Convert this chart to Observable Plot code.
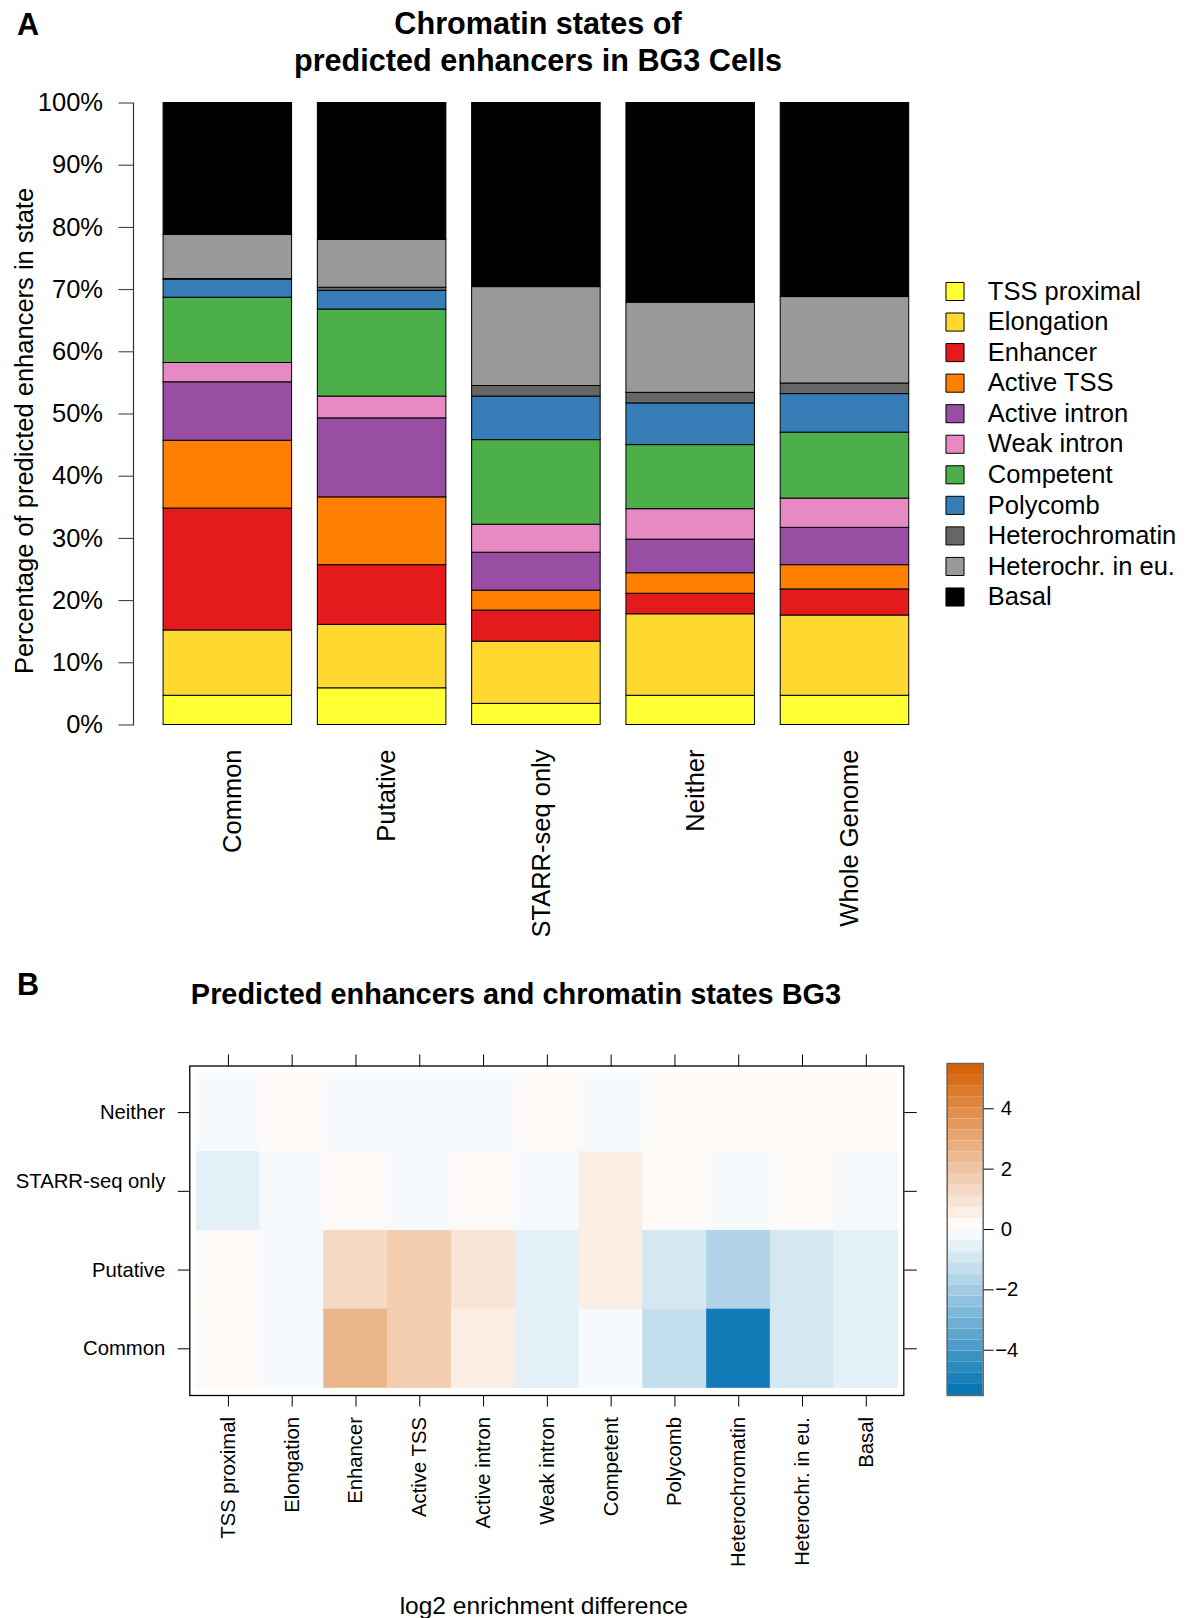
<!DOCTYPE html>
<html>
<head>
<meta charset="utf-8">
<script src="https://cdn.jsdelivr.net/npm/d3@7"></script>
<script src="https://cdn.jsdelivr.net/npm/@observablehq/plot@0.6"></script>
<style>
  body { margin: 0; background: #fff; }
  #page { position: relative; width: 1185px; height: 1618px; overflow: hidden; background: #fff;
          font-family: "Liberation Sans", Arial, Helvetica, sans-serif; color: #000; }
  .txt { position: absolute; white-space: nowrap; }
  svg { position: absolute; overflow: visible; }
</style>
</head>
<body>
<div id="page"></div>
<script>
const FONT = '"Liberation Sans", Arial, Helvetica, sans-serif';

// ---------- Panel A data ----------
const groups = ["Common", "Putative", "STARR-seq only", "Neither", "Whole Genome"];
const states = ["TSS proximal", "Elongation", "Enhancer", "Active TSS", "Active intron", "Weak intron",
                "Competent", "Polycomb", "Heterochromatin", "Heterochr. in eu.", "Basal"];
const stateColors = ["#FFFF33", "#FFD92F", "#E41A1C", "#FF7F00", "#984EA3", "#E78AC3",
                     "#4DAF4A", "#377EB8", "#666666", "#999999", "#000000"];
const pctCommon      = [4.7, 10.5, 19.6, 10.9,  9.4, 3.1, 10.5, 2.9, 0.1,  7.1, 21.2];
const pctPutative    = [5.9, 10.2,  9.6, 10.9, 12.7, 3.5, 14.0, 3.0, 0.5,  7.7, 22.0];
const pctStarrOnly   = [3.4, 10.0,  5.0,  3.2,  6.1, 4.5, 13.6, 7.0, 1.7, 15.9, 29.6];
const pctNeither     = [4.7, 13.1,  3.3,  3.3,  5.4, 4.9, 10.3, 6.7, 1.7, 14.5, 32.1];
const pctWholeGenome = [4.7, 12.9,  4.2,  3.9,  6.0, 4.7, 10.6, 6.2, 1.7, 13.9, 31.2];
const yTicksA = [0, 10, 20, 30, 40, 50, 60, 70, 80, 90, 100];
const titleA = ["Chromatin states of", "predicted enhancers in BG3 Cells"];
const yLabelA = "Percentage of predicted enhancers in state";

// ---------- Panel B data ----------
const heatRows = ["Neither", "STARR-seq only", "Putative", "Common"];
const diffNeither   = [-0.2,  0.2, -0.2, -0.2, -0.2,  0.2, -0.2,  0.2,  0.2,  0.2,  0.2];
const diffStarrOnly = [-0.6, -0.2,  0.2, -0.2,  0.2, -0.2,  0.6,  0.2, -0.2,  0.2, -0.2];
const diffPutative  = [ 0.2, -0.2,  1.3,  1.7,  0.9, -0.6,  0.6, -0.9, -1.7, -0.9, -0.6];
const diffCommon    = [ 0.2, -0.2,  2.5,  1.7,  0.6, -0.6, -0.2, -1.3, -5.1, -0.9, -0.6];
const colorbarTicks = [-4, -2, 0, 2, 4];
const colorbarLimits = [-5.5, 5.5];
const colorbarBandCount = 30;
const titleB = "Predicted enhancers and chromatin states BG3";
const xLabelB = "log2 enrichment difference";
const BLUE = "#0072B2", ORANGE = "#D55E00";

// ---------- build tables ----------
const pctSeries = [pctCommon, pctPutative, pctStarrOnly, pctNeither, pctWholeGenome];
const barData = groups.flatMap((g, gi) => states.map((s, si) => ({group: g, state: s, pct: pctSeries[gi][si]})));
const diffSeries = [diffNeither, diffStarrOnly, diffPutative, diffCommon];
const heatData = heatRows.flatMap((r, ri) => states.map((s, si) => ({row: r, state: s, diff: diffSeries[ri][si]})));
const bandStep = (colorbarLimits[1] - colorbarLimits[0]) / colorbarBandCount;
const bands = d3.range(colorbarBandCount).map(i => {
  const lo = colorbarLimits[0] + i * bandStep;
  return {lo, hi: lo + bandStep, mid: lo + bandStep / 2};
});
const heatColor = {type: "linear", domain: [colorbarLimits[0], 0, colorbarLimits[1]],
                   range: [BLUE, "#FFFFFF", ORANGE], interpolate: "rgb"};

const page = document.getElementById("page");
function place(el, left, top) { el.style.left = left + "px"; el.style.top = top + "px"; page.appendChild(el); }
function addText(txt, left, top, css) {
  const d = document.createElement("div");
  d.className = "txt";
  d.textContent = txt;
  Object.assign(d.style, css);
  place(d, left, top);
  return d;
}

// ---------- Panel A ----------
const plotA = Plot.plot({
  width: 1185, height: 960,
  marginTop: 102.5, marginBottom: 235.5, marginLeft: 133, marginRight: 249,
  style: {fontFamily: FONT, fontSize: "25.5px", color: "#000", background: "transparent"},
  x: {domain: groups, range: [137.3, 934.5], padding: 0.167, round: false},
  y: {domain: [0, 100]},
  color: {domain: states, range: stateColors},
  marks: [
    Plot.barY(barData, {x: "group", y: "pct", fill: "state", stroke: "#000", strokeWidth: 1}),
    Plot.frame({anchor: "left", stroke: "#333", strokeWidth: 1.2}),
    Plot.axisY(yTicksA, {tickSize: 14.5, tickPadding: 16, tickFormat: d => d + "%", label: null, stroke: "#333"}),
    Plot.axisX({tickSize: 0, tickPadding: 24.5, tickRotate: -90, dx: 5, label: null}),
    Plot.text([yLabelA], {frameAnchor: "left", textAnchor: "middle", rotate: -90, dx: -109, dy: 17, text: d => d})
  ]
});
place(plotA, 0, 0);

// legend A
const plotL = Plot.plot({
  width: 255, height: 350, margin: 0,
  style: {fontFamily: FONT, fontSize: "25.5px", color: "#000", background: "transparent"},
  x: {domain: [0, 1], range: [24.5, 200], axis: null},
  y: {type: "point", domain: states, range: [21, 326.5], padding: 0, round: false, axis: null},
  color: {domain: states, range: stateColors},
  marks: [
    Plot.dot(states, {x: 0, y: d => d, fill: d => d, stroke: "#000", strokeWidth: 1, symbol: "square", r: 10.2}),
    Plot.text(states, {x: 0, y: d => d, text: d => d, textAnchor: "start", dx: 32.8})
  ]
});
place(plotL, 930, 270);

addText("A", 17, 9, {fontSize: "30.6px", fontWeight: "bold", lineHeight: "30.6px"});
const tA = addText("", 238, 4.9, {fontSize: "30.6px", fontWeight: "bold", lineHeight: "37px", width: "600px", textAlign: "center", whiteSpace: "pre"});
tA.textContent = titleA.join("\n");

// ---------- Panel B ----------
const plotB = Plot.plot({
  width: 1185, height: 658,
  marginTop: 105.5, marginBottom: 223, marginLeft: 189.3, marginRight: 281.7,
  style: {fontFamily: FONT, fontSize: "20.3px", color: "#000", background: "transparent"},
  x: {domain: states, range: [196, 897.7], padding: 0, round: false},
  y: {domain: heatRows, range: [112.7, 427.7], padding: 0, round: false},
  color: heatColor,
  marks: [
    Plot.cell(heatData, {x: "state", y: "row", fill: "diff", stroke: "diff", strokeWidth: 0.5, inset: 0}),
    Plot.frame({stroke: "#000", strokeWidth: 1.3}),
    Plot.axisY({anchor: "left", tickSize: 11.5, tickPadding: 13, label: null,
                tickFormat: d => d === "STARR-seq only" ? d + "\n" : d}),
    Plot.axisY({anchor: "right", tickSize: 12.5, tickFormat: () => "", label: null}),
    Plot.axisX({anchor: "top", tickSize: 12, tickFormat: () => "", label: null}),
    Plot.axisX({anchor: "bottom", tickSize: 11.5, tickPadding: 10, tickRotate: -90, label: null}),
    Plot.text([xLabelB], {frameAnchor: "bottom", dy: 218, dx: -3, text: d => d, fontSize: 24.5})
  ]
});
place(plotB, 0, 960);

// colorbar
const plotC = Plot.plot({
  width: 120, height: 658,
  marginTop: 103, marginBottom: 223, marginLeft: 16.7, marginRight: 67.3,
  style: {fontFamily: FONT, fontSize: "20.3px", color: "#000", background: "transparent"},
  x: {domain: [0, 1], axis: null},
  y: {domain: colorbarLimits},
  color: heatColor,
  marks: [
    Plot.rect(bands, {x1: 0, x2: 1, y1: "lo", y2: "hi", fill: "mid"}),
    Plot.frame({stroke: "#666", strokeWidth: 1.5}),
    Plot.axisY(colorbarTicks, {anchor: "right", tickSize: 10, tickPadding: 2, label: null,
                               tickFormat: d => d < 0 ? "\u2212" + (-d) : "\u00A0" + d})
  ]
});
place(plotC, 930, 960);

addText("B", 17, 969, {fontSize: "30.6px", fontWeight: "bold", lineHeight: "30.6px"});
addText(titleB, 16, 980, {fontSize: "28.9px", fontWeight: "bold", lineHeight: "29.4px", width: "1000px", textAlign: "center"});
</script>
</body>
</html>
